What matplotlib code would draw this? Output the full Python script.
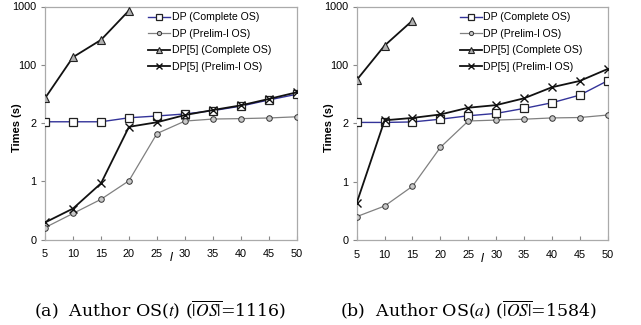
import matplotlib
matplotlib.use("Agg")
import matplotlib.pyplot as plt

plt.rcParams['font.family'] = ['Liberation Sans', 'DejaVu Sans']
plt.rcParams['mathtext.fontset'] = 'stix'

l_values = [5, 10, 15, 20, 25, 30, 35, 40, 45, 50]
y_tick_values = [0.1, 1, 10, 100, 1000]
y_tick_labels = ["0", "1", "2", "100", "1000"]
series_names = ["DP (Complete OS)", "DP (Prelim-l OS)", "DP[5] (Complete OS)", "DP[5] (Prelim-l OS)"]

# Panel (a): Author OS(t)
a_dp_complete = [10.5, 10.5, 10.5, 12.3, 13.2, 14.3, 16.3, 19.5, 24.9, 31.2]
a_dp_prelim = [0.16, 0.28, 0.49, 1.02, 6.6, 10.8, 11.7, 11.9, 12.2, 12.8]
a_dp5_complete = [26.6, 135, 267, 853]
a_dp5_prelim = [0.196, 0.34, 0.92, 8.6, 10.3, 13.7, 16.7, 20.1, 25.9, 33.7]

# Panel (b): Author OS(a)
b_dp_complete = [10.3, 10.3, 10.5, 11.7, 13.4, 14.7, 17.9, 22.4, 30.3, 53.5]
b_dp_prelim = [0.25, 0.38, 0.83, 3.85, 10.9, 11.3, 11.7, 12.3, 12.5, 13.8]
b_dp5_complete = [55, 214, 575]
b_dp5_prelim = [0.43, 11.2, 12.3, 14.1, 18.4, 20.4, 26.7, 41.3, 53, 85]

captions = [r"(a)  Author OS($t$) ($\overline{|OS|}$=1116)",
            r"(b)  Author OS($a$) ($\overline{|OS|}$=1584)"]
caption_x = [160 / 641, 468 / 641]

fig = plt.figure(figsize=(6.41, 3.25), dpi=100)
axes = [fig.add_axes([0.0702, 0.263, 0.393, 0.717]),
        fig.add_axes([0.5565, 0.262, 0.3916, 0.718])]

panels = [(a_dp_complete, a_dp_prelim, a_dp5_complete, a_dp5_prelim),
          (b_dp_complete, b_dp_prelim, b_dp5_complete, b_dp5_prelim)]

for ax, (dpc, dpp, d5c, d5p), cap, cx in zip(axes, panels, captions, caption_x):
    ax.plot(l_values, dpc, color='#333399', lw=1.0, marker='s', ms=5.5,
            mfc='white', mec='#222222', mew=0.9, label=series_names[0], zorder=3)
    ax.plot(l_values, dpp, color='#808080', lw=0.9, marker='o', ms=4,
            mfc='#c8c8c8', mec='#333333', mew=0.7, label=series_names[1], zorder=3)
    ax.plot(l_values[:len(d5c)], d5c, color='#111111', lw=1.3, marker='^', ms=5.5,
            mfc='#b0b0b0', mec='#222222', mew=0.8, label=series_names[2], zorder=3)
    ax.plot(l_values, d5p, color='#111111', lw=1.3, marker='x', ms=5.5,
            mec='#111111', mew=1.0, label=series_names[3], zorder=4)
    ax.set_yscale('log')
    ax.set_xlim(5, 50)
    ax.set_ylim(0.1, 1000)
    ax.set_xticks(l_values)
    ax.set_yticks(y_tick_values)
    ax.set_yticklabels(y_tick_labels)
    ax.minorticks_off()
    ax.tick_params(axis='both', labelsize=7.8, length=3, width=0.8, color='#888888', pad=3)
    ax.tick_params(axis='x', direction='in', pad=7)
    for s in ax.spines.values():
        s.set_color('#aaaaaa')
        s.set_linewidth(0.9)
    ax.set_ylabel("Times (s)", fontsize=8, fontweight='bold')
    ax.yaxis.set_label_coords(-0.09, 0.48)
    ax.set_xlabel("l", fontsize=9, fontstyle='italic', labelpad=-5)
    leg = ax.legend(loc='upper left', bbox_to_anchor=(0.41, 0.975), frameon=False, fontsize=7.6,
                    handlelength=2.1, handletextpad=0.15, labelspacing=0.62,
                    borderaxespad=0, borderpad=0, markerscale=0.75)
    fig.text(cx, 0.046, cap, ha='center', va='center',
             fontsize=12.5, family='DejaVu Serif')

fig.savefig("out.png", dpi=100)
